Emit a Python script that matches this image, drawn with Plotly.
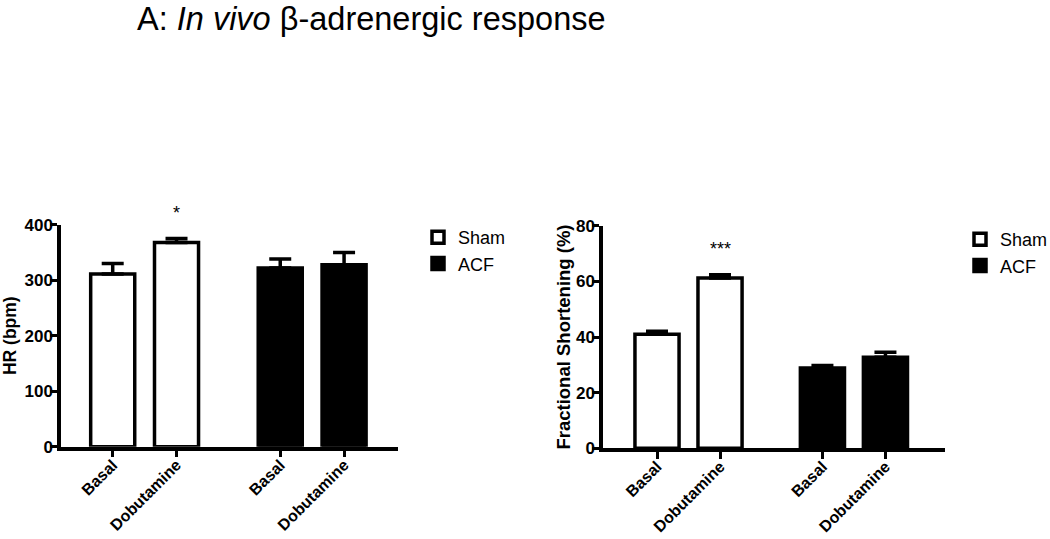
import plotly.graph_objects as go

# ---- data ----
categories = ["Basal", "Dobutamine", "Basal", "Dobutamine"]
x_pos_sham = [0, 1]
x_pos_acf = [2.625, 3.625]

hr_sham = [311, 368]
hr_sham_err = [19, 7]
hr_acf = [322, 328]
hr_acf_err = [16, 22]

fs_sham = [41.0, 61.2]
fs_sham_err = [1.1, 1.2]
fs_acf = [28.9, 32.7]
fs_acf_err = [0.9, 1.8]

hr_ticks = [0, 100, 200, 300, 400]
fs_ticks = [0, 20, 40, 60, 80]

FONT = "Arial, Liberation Sans, Helvetica, sans-serif"

fig = go.Figure()

def add_bars(xaxis, yaxis, sham, sham_err, acf, acf_err, legend, width):
    fig.add_trace(go.Bar(
        x=x_pos_sham, y=sham, name="Sham", width=width,
        marker=dict(color="white", line=dict(color="black", width=3.5)),
        error_y=dict(type="data", array=sham_err, arrayminus=[0] * len(sham_err),
                     symmetric=False, color="black", thickness=3.5, width=11),
        xaxis=xaxis, yaxis=yaxis, legend=legend, showlegend=True))
    fig.add_trace(go.Bar(
        x=x_pos_acf, y=acf, name="ACF", width=width,
        marker=dict(color="black", line=dict(color="black", width=3.5)),
        error_y=dict(type="data", array=acf_err, arrayminus=[0] * len(acf_err),
                     symmetric=False, color="black", thickness=3.5, width=11),
        xaxis=xaxis, yaxis=yaxis, legend=legend, showlegend=True))

add_bars("x", "y", hr_sham, hr_sham_err, hr_acf, hr_acf_err, "legend", 0.69)
add_bars("x2", "y2", fs_sham, fs_sham_err, fs_acf, fs_acf_err, "legend2", 0.70)

xtick_font = dict(family=FONT, size=16, color="black", weight="bold")
ytick_font = dict(family=FONT, size=17, color="black", weight="bold")

xcommon = dict(tickvals=x_pos_sham + x_pos_acf, ticktext=categories, tickangle=-45,
               showline=True, linecolor="black", linewidth=3.5, ticks="outside",
               ticklen=7, tickwidth=3, tickcolor="black", tickfont=xtick_font,
               ticklabelstandoff=-8,
               showgrid=False, zeroline=False, fixedrange=True)
ycommon = dict(showline=True, linecolor="black", linewidth=3.5, ticks="outside",
               ticklen=7, tickwidth=3, tickcolor="black", tickfont=ytick_font,
               ticklabelstandoff=-6,
               showgrid=False, zeroline=False, fixedrange=True)

fig.update_layout(
    width=1050, height=539,
    margin=dict(l=0, r=0, t=0, b=0, autoexpand=False),
    paper_bgcolor="white", plot_bgcolor="white",
    barmode="overlay",
    font=dict(family=FONT, color="black"),
    title=dict(text="A: <i>In vivo</i> β-adrenergic response",
               font=dict(family=FONT, size=32.5, color="black"),
               x=137 / 1050, xanchor="left", y=1 - 19 / 539, yanchor="middle"),
    xaxis=dict(domain=[61 / 1050, 398 / 1050], range=[-0.81, 4.47], anchor="y", **xcommon),
    yaxis=dict(domain=[(539 - 446.7) / 539, (539 - 224.7) / 539], range=[0, 400],
               tickvals=hr_ticks,
               title=dict(text="HR (bpm)", standoff=12,
                          font=dict(family=FONT, size=17.5, color="black", weight="bold")),
               anchor="x", **ycommon),
    xaxis2=dict(domain=[603 / 1050, 945 / 1050], range=[-0.857, 4.57], anchor="y2", **xcommon),
    yaxis2=dict(domain=[(539 - 448.3) / 539, (539 - 225.7) / 539], range=[0, 80],
                tickvals=fs_ticks,
                title=dict(text="Fractional Shortening (%)", standoff=1,
                           font=dict(family=FONT, size=18.5, color="black", weight="bold")),
                anchor="x2", **ycommon),
    legend=dict(x=418 / 1050, y=1 - 219 / 539, xanchor="left", yanchor="top",
                font=dict(family=FONT, size=18, color="black"), bgcolor="rgba(0,0,0,0)"),
    legend2=dict(x=960 / 1050, y=1 - 221 / 539, xanchor="left", yanchor="top",
                 font=dict(family=FONT, size=18, color="black"), bgcolor="rgba(0,0,0,0)"),
    annotations=[
        dict(text="*", x=x_pos_sham[1], y=hr_ticks[-1], yshift=12, xref="x", yref="y",
             showarrow=False, font=dict(family=FONT, size=18, color="black"), yanchor="middle"),
        dict(text="***", x=x_pos_sham[1], y=71.5, xref="x2", yref="y2", showarrow=False,
             font=dict(family=FONT, size=18, color="black"), yanchor="middle"),
    ],
)

fig.write_html("out.html", config={"displayModeBar": False},
               post_script="document.body.style.margin='0';document.body.style.overflow='hidden';")
